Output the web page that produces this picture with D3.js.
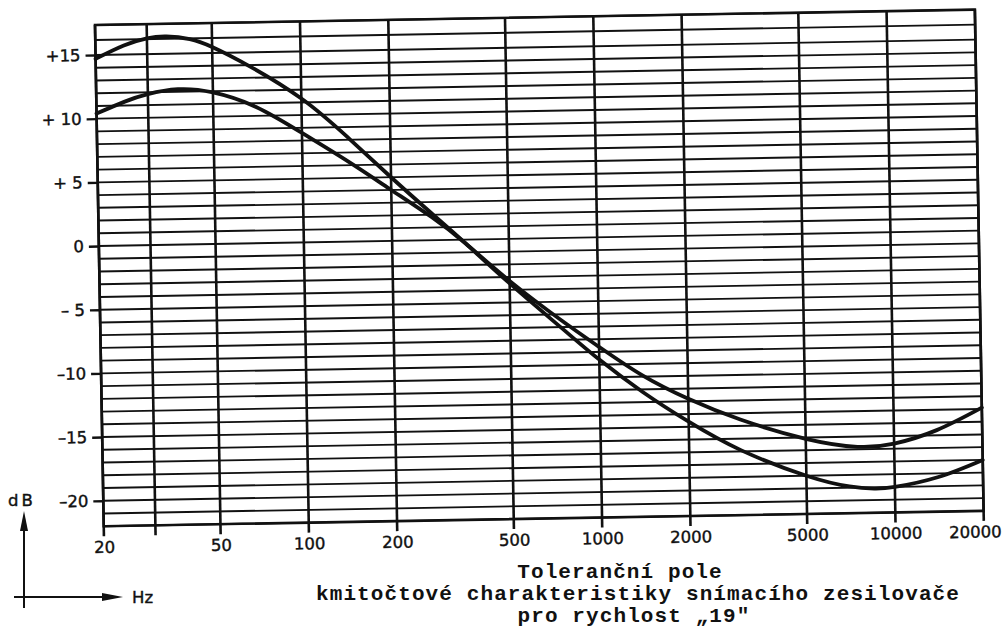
<!DOCTYPE html>
<html>
<head>
<meta charset="utf-8">
<script src="https://cdn.jsdelivr.net/npm/d3@7"></script>
<style>
  html, body { margin: 0; padding: 0; background: #fff; }
  svg { display: block; }
</style>
</head>
<body>
<svg id="chart" width="1008" height="631"></svg>
<script>
// ---- data ----
const freqA = [20, 25, 30, 35, 42, 50, 67, 100, 143, 200, 274, 356, 500, 750, 1000, 1400, 2000, 3000, 5000, 7000, 8500, 10000, 14000, 20000];
const dbA   = [14.7, 15.6, 16.05, 16.15, 15.95, 15.4, 13.9, 11.3, 8.2, 5.0, 2.1, -0.3, -3.5, -7.1, -9.6, -12.2, -14.6, -16.9, -19.0, -19.9, -20.1, -20.0, -19.3, -18.0];

const freqB = [20, 25, 30, 38, 50, 70, 100, 143, 200, 274, 356, 500, 750, 1000, 1400, 2000, 3000, 5000, 7500, 10000, 14000, 20000];
const dbB   = [10.4, 11.3, 11.85, 12.2, 11.9, 10.7, 8.6, 6.3, 4.0, 1.8, -0.3, -3.3, -6.5, -8.6, -10.9, -12.8, -14.5, -16.1, -16.8, -16.6, -15.6, -13.9];

const xGrid       = [20, 30, 50, 100, 200, 500, 1000, 2000, 5000, 10000, 20000];
const xTickValues = [20, 50, 100, 200, 500, 1000, 2000, 5000, 10000, 20000];
const xTickLabels = ["20", "50", "100", "200", "500", "1000", "2000", "5000", "10000", "20000"];

const yTickValues = [15, 10, 5, 0, -5, -10, -15, -20];
const yTickLabels = ["+15", "+ 10", "+ 5", "0", "\u2013 5", "\u201310", "\u201315", "\u201320"];

const titleLines = ["Toleranční pole", "kmitočtové charakteristiky snímacího zesilovače", "pro rychlost \u201E19\""];
const yUnit = "dB";
const xUnit = "Hz";

// ---- layout ----
const svg = d3.select("#chart");
const W = 880, H = 501.3;
const ink = "#111";

const x = d3.scaleLog().domain([20, 20000]).range([0, W]);
const y = d3.scaleLinear().domain([17, 15, -20, -22]).range([0, 30, 475.8, H]);

// whole printed grid is slightly rotated in the scan
const g = svg.append("g").attr("transform", "translate(95,25) rotate(-1)");

// horizontal grid (every 1 dB)
g.append("g").selectAll("line")
  .data(d3.range(-22, 18))
  .join("line")
  .attr("x1", 0).attr("x2", W)
  .attr("y1", d => y(d)).attr("y2", d => y(d))
  .attr("stroke", ink).attr("stroke-width", 1.9);

// vertical grid, extending slightly below as ticks
g.append("g").selectAll("line")
  .data(xGrid)
  .join("line")
  .attr("x1", d => x(d)).attr("x2", d => x(d))
  .attr("y1", 0).attr("y2", H + 10)
  .attr("stroke", ink).attr("stroke-width", 2.6);

// frame
g.append("rect").attr("x", 0).attr("y", 0).attr("width", W).attr("height", H)
  .attr("fill", "none").attr("stroke", ink).attr("stroke-width", 2.6);

const labelFont = sel => sel.attr("fill", ink).attr("stroke", ink).attr("stroke-width", 0.4)
  .style("font-family", "'DejaVu Sans', sans-serif").style("font-size", "16.5px");

// axes
const yAxis = d3.axisLeft(y).tickValues(yTickValues)
  .tickFormat((d, i) => yTickLabels[i]).tickSize(10).tickPadding(5);
const ya = g.append("g").call(yAxis);
ya.select(".domain").remove();
ya.selectAll("line").attr("stroke", ink).attr("stroke-width", 2.4);
ya.selectAll("text").call(labelFont);

const xAxis = d3.axisBottom(x).tickValues(xTickValues)
  .tickFormat((d, i) => xTickLabels[i]).tickSize(10).tickPadding(5);
const xa = g.append("g").attr("transform", `translate(0,${H})`).call(xAxis);
xa.select(".domain").remove();
xa.selectAll("line").remove();
xa.selectAll("text").call(labelFont)
  .attr("dx", (d, i) => i === xTickValues.length - 1 ? -9 : 0);

// curves
const line = d3.line().x(d => x(d[0])).y(d => y(d[1])).curve(d3.curveNatural);
g.append("path").datum(freqA.map((f, i) => [f, dbA[i]]))
  .attr("d", line).attr("fill", "none").attr("stroke", ink).attr("stroke-width", 3.8)
  .attr("stroke-linecap", "round");
g.append("path").datum(freqB.map((f, i) => [f, dbB[i]]))
  .attr("d", line).attr("fill", "none").attr("stroke", ink).attr("stroke-width", 3.8)
  .attr("stroke-linecap", "round");

// unit arrows bottom-left
svg.append("text").attr("x", 22).attr("y", 506).attr("text-anchor", "middle")
  .call(labelFont).style("letter-spacing", "3px").text(yUnit);
svg.append("line").attr("x1", 24).attr("x2", 24).attr("y1", 608).attr("y2", 525)
  .attr("stroke", ink).attr("stroke-width", 2);
svg.append("path").attr("d", "M24,511 L20,531 L28,531 Z").attr("fill", ink);
svg.append("line").attr("x1", 14).attr("x2", 108).attr("y1", 597).attr("y2", 597)
  .attr("stroke", ink).attr("stroke-width", 2);
svg.append("path").attr("d", "M123,597 L102,593 L102,601 Z").attr("fill", ink);
svg.append("text").attr("x", 132).attr("y", 603).call(labelFont).text(xUnit);

// typewriter caption
const capX = [620, 638, 634];
const capY = [578, 600, 622];
svg.append("g").selectAll("text")
  .data(titleLines)
  .join("text")
  .attr("x", (d, i) => capX[i]).attr("y", (d, i) => capY[i])
  .attr("text-anchor", "middle")
  .style("font-family", "'Liberation Mono', 'DejaVu Sans Mono', monospace")
  .style("font-size", "21px").style("font-weight", "bold")
  .style("letter-spacing", "1.1px")
  .attr("fill", ink)
  .text(d => d);
</script>
</body>
</html>
